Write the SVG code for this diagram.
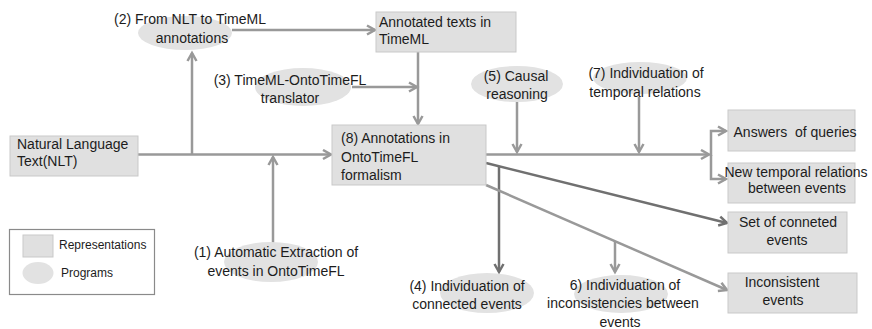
<svg xmlns="http://www.w3.org/2000/svg" width="872" height="329" viewBox="0 0 872 329">
  <style>
    text { font-family: "Liberation Sans", Arial, sans-serif; font-size: 14px; fill: #1c1c1c; }
    .c { text-anchor: middle; }
    .small { font-size: 12px; }
    .rep { fill: #e0e0e0; stroke: #c9c9c9; stroke-width: 1; }
    .prog { fill: #e2e2e2; stroke: none; }
    .ln { fill: none; stroke: #999999; stroke-width: 2.5; marker-end: url(#arrLight); }
    .ln.plain { marker-end: none; }
    .dk { fill: none; stroke: #707070; stroke-width: 2.5; marker-end: url(#arrDark); }
  </style>
  <defs>
    <marker id="arrLight" markerUnits="userSpaceOnUse" markerWidth="14" markerHeight="14" refX="10" refY="6" orient="auto">
      <path d="M2,1.5 L10,6 L2,10.5" fill="none" stroke="#999999" stroke-width="2.5"/>
    </marker>
    <marker id="arrDark" markerUnits="userSpaceOnUse" markerWidth="14" markerHeight="14" refX="10" refY="6" orient="auto">
      <path d="M2,1.5 L10,6 L2,10.5" fill="none" stroke="#707070" stroke-width="2.5"/>
    </marker>
  </defs>

  <!-- connectors -->
  <g id="connectors">
    <path class="ln" d="M138,154.5 H331"/>
    <path class="ln" d="M192,154.5 V53"/>
    <path class="ln" d="M232,30 H375"/>
    <path class="ln" d="M352,87 H417"/>
    <path class="ln" d="M418,52 V124"/>
    <path class="ln" d="M273,243 V157"/>
    <path class="ln" d="M486,154.5 H709"/>
    <path class="ln" d="M517,102 V152"/>
    <path class="ln" d="M639,97 V152"/>
    <path class="ln" d="M711,156 V131 H726"/>
    <path class="ln" d="M711,155 V179 H726"/>
    <path class="dk" d="M486,163 L727,223"/>
    <path class="dk" d="M499,166 V272"/>
    <path class="ln" d="M486,185 L727,290"/>
    <path class="ln" d="M615,241 V272"/>
  </g>

  <!-- representations -->
  <g id="nlt">
    <rect class="rep" x="10" y="136" width="128" height="40"/>
    <text x="17" y="149">Natural Language</text>
    <text x="17" y="166">Text(NLT)</text>
  </g>
  <g id="annotated-timeml">
    <rect class="rep" x="376" y="12" width="140" height="40"/>
    <text x="379" y="27">Annotated texts in</text>
    <text x="379" y="44">TimeML</text>
  </g>
  <g id="annotations-ontotimefl">
    <rect class="rep" x="332" y="125" width="154" height="60"/>
    <text x="341" y="143">(8) Annotations in</text>
    <text x="341" y="162">OntoTimeFL</text>
    <text x="341" y="180">formalism</text>
  </g>
  <g id="answers">
    <rect class="rep" x="728" y="110" width="127" height="41"/>
    <text class="c" x="795" y="137" xml:space="preserve">Answers  of queries</text>
  </g>
  <g id="new-relations">
    <rect class="rep" x="728" y="163" width="127" height="40"/>
    <text class="c" x="796" y="177">New temporal relations</text>
    <text class="c" x="797" y="193">between events</text>
  </g>
  <g id="connected-set">
    <rect class="rep" x="728" y="212" width="119" height="41"/>
    <text class="c" x="788" y="227">Set of conneted</text>
    <text class="c" x="787" y="245">events</text>
  </g>
  <g id="inconsistent">
    <rect class="rep" x="728" y="273" width="129" height="40"/>
    <text class="c" x="782" y="287">Inconsistent</text>
    <text class="c" x="783" y="305">events</text>
  </g>

  <!-- programs -->
  <g id="prog-2">
    <ellipse class="prog" cx="185" cy="33" rx="47" ry="17"/>
    <text class="c" x="190" y="24">(2) From NLT to TimeML</text>
    <text class="c" x="192" y="43">annotations</text>
  </g>
  <g id="prog-3">
    <ellipse class="prog" cx="303" cy="87" rx="48" ry="19"/>
    <text class="c" x="290" y="85">(3) TimeML-OntoTimeFL</text>
    <text class="c" x="290" y="103">translator</text>
  </g>
  <g id="prog-5">
    <ellipse class="prog" cx="517" cy="84" rx="46" ry="18"/>
    <text class="c" x="516" y="81">(5) Causal</text>
    <text class="c" x="517" y="99">reasoning</text>
  </g>
  <g id="prog-7">
    <ellipse class="prog" cx="640" cy="78" rx="47" ry="16"/>
    <text class="c" x="646" y="78">(7) Individuation of</text>
    <text class="c" x="645" y="97">temporal relations</text>
  </g>
  <g id="prog-1">
    <ellipse class="prog" cx="271" cy="262" rx="47" ry="20"/>
    <text class="c" x="276" y="257">(1) Automatic Extraction of</text>
    <text class="c" x="276" y="276">events in OntoTimeFL</text>
  </g>
  <g id="prog-4">
    <ellipse class="prog" cx="487" cy="293" rx="47" ry="20"/>
    <text class="c" x="467" y="291">(4) Individuation of</text>
    <text class="c" x="467" y="309">connected events</text>
  </g>
  <g id="prog-6">
    <ellipse class="prog" cx="621" cy="294" rx="47" ry="19"/>
    <text class="c" x="625" y="290">6) Individuation of</text>
    <text class="c" x="623" y="308">inconsistencies between</text>
    <text class="c" x="620" y="327">events</text>
  </g>

  <!-- legend -->
  <g id="legend">
    <rect x="9.5" y="229.5" width="145" height="65" fill="#ffffff" stroke="#8a8a8a" stroke-width="1.2"/>
    <rect class="rep" x="23" y="235" width="30" height="22" stroke="none"/>
    <ellipse class="prog" cx="38" cy="273" rx="15.5" ry="11"/>
    <text class="small" x="59" y="249">Representations</text>
    <text class="small" x="61" y="277">Programs</text>
  </g>
</svg>
